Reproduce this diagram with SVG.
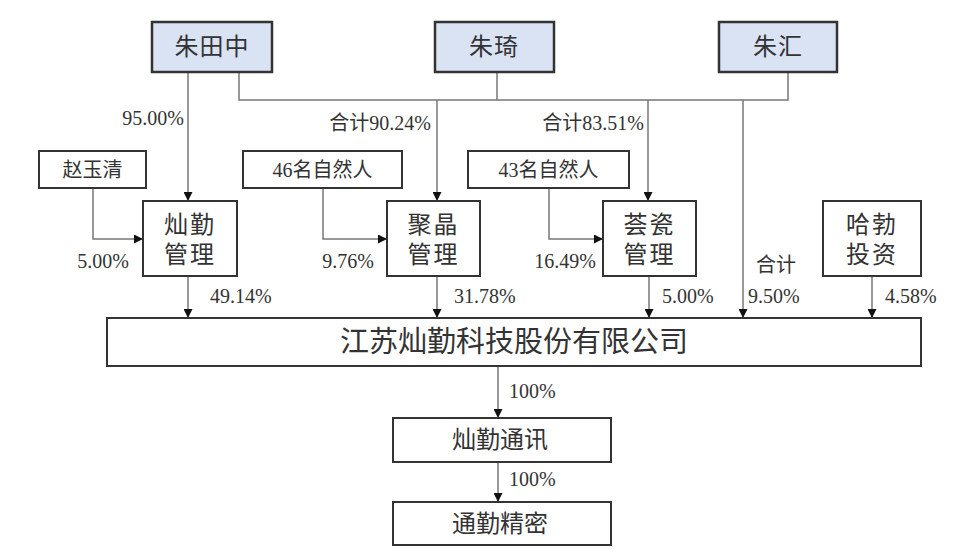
<svg xmlns="http://www.w3.org/2000/svg" width="959" height="558" viewBox="0 0 959 558">
<style>
.bx{fill:#fff;stroke:#333;stroke-width:2}
.top{fill:#dae3f3;stroke:#333;stroke-width:2.5}
.ln{fill:none;stroke:#777;stroke-width:1.5}
.t{font-family:"Liberation Serif","Noto Sans CJK SC",serif;fill:#333;text-anchor:middle;dominant-baseline:central}
.p{font-family:"Liberation Serif","Noto Sans CJK SC",serif;font-size:20px;fill:#333}
</style>
<defs>
<marker id="ar" viewBox="0 0 10 10" refX="10" refY="5" markerWidth="9" markerHeight="9" markerUnits="userSpaceOnUse" orient="auto">
<path d="M0,0 L10,5 L0,10 z" fill="#111"/>
</marker>
</defs>
<rect width="959" height="558" fill="#fff"/>
<g id="connectors">
<path class="ln" d="M188,73 V201" marker-end="url(#ar)"/>
<path class="ln" d="M239,73 V100 H788 V73"/>
<path class="ln" d="M497,73 V100"/>
<path class="ln" d="M437,100 V201" marker-end="url(#ar)"/>
<path class="ln" d="M648,100 V201" marker-end="url(#ar)"/>
<path class="ln" d="M743,100 V318" marker-end="url(#ar)"/>
<path class="ln" d="M93,188 V239 H143" marker-end="url(#ar)"/>
<path class="ln" d="M323,188 V239 H387" marker-end="url(#ar)"/>
<path class="ln" d="M549,188 V239 H603" marker-end="url(#ar)"/>
<path class="ln" d="M188,276 V318" marker-end="url(#ar)"/>
<path class="ln" d="M437,276 V318" marker-end="url(#ar)"/>
<path class="ln" d="M649,276 V318" marker-end="url(#ar)"/>
<path class="ln" d="M872,276 V318" marker-end="url(#ar)"/>
<path class="ln" d="M498,366 V418" marker-end="url(#ar)"/>
<path class="ln" d="M498,462 V502" marker-end="url(#ar)"/>
</g>
<g id="labels">
<text class="p" x="184" y="125" text-anchor="end">95.00%</text>
<text class="p" x="431" y="130" text-anchor="end">合计90.24%</text>
<text class="p" x="644" y="130" text-anchor="end">合计83.51%</text>
<text class="p" x="129" y="268" text-anchor="end">5.00%</text>
<text class="p" x="374" y="268" text-anchor="end">9.76%</text>
<text class="p" x="596" y="268" text-anchor="end">16.49%</text>
<text class="p" x="210" y="303">49.14%</text>
<text class="p" x="454" y="303">31.78%</text>
<text class="p" x="662" y="303">5.00%</text>
<text class="p" x="756" y="272">合计</text>
<text class="p" x="748" y="303">9.50%</text>
<text class="p" x="885" y="303">4.58%</text>
<text class="p" x="509" y="398">100%</text>
<text class="p" x="509" y="486">100%</text>
</g>
<g id="zhutianzhong"><rect class="top" x="152" y="22" width="120" height="50"/><text class="t" x="212" y="47" font-size="24" letter-spacing="1">朱田中</text></g>
<g id="zhuqi"><rect class="top" x="435" y="22" width="119" height="50"/><text class="t" x="494" y="47" font-size="24" letter-spacing="1">朱琦</text></g>
<g id="zhuhui"><rect class="top" x="719" y="22" width="118" height="50"/><text class="t" x="778" y="47" font-size="24" letter-spacing="1">朱汇</text></g>
<g id="zhaoyuqing"><rect class="bx" x="39" y="151" width="107" height="37"/><text class="t" x="92.5" y="169.5" font-size="20">赵玉清</text></g>
<g id="ren46"><rect class="bx" x="243" y="151" width="159" height="37"/><text class="t" x="322.5" y="169.5" font-size="20">46名自然人</text></g>
<g id="ren43"><rect class="bx" x="468" y="151" width="161" height="37"/><text class="t" x="548.5" y="169.5" font-size="20">43名自然人</text></g>
<g id="canqinguanli"><rect class="bx" x="143" y="201" width="94" height="75"/><text class="t" x="190" y="225" font-size="24" letter-spacing="2">灿勤</text><text class="t" x="190" y="255" font-size="24" letter-spacing="2">管理</text></g>
<g id="jujingguanli"><rect class="bx" x="387" y="201" width="93" height="75"/><text class="t" x="433.5" y="225" font-size="24" letter-spacing="2">聚晶</text><text class="t" x="433.5" y="255" font-size="24" letter-spacing="2">管理</text></g>
<g id="huiciguanli"><rect class="bx" x="603" y="201" width="93" height="75"/><text class="t" x="649.5" y="225" font-size="24" letter-spacing="2">荟瓷</text><text class="t" x="649.5" y="255" font-size="24" letter-spacing="2">管理</text></g>
<g id="habotouzi"><rect class="bx" x="823" y="201" width="98" height="75"/><text class="t" x="872" y="225" font-size="24" letter-spacing="2">哈勃</text><text class="t" x="872" y="255" font-size="24" letter-spacing="2">投资</text></g>
<g id="company"><rect class="bx" x="107" y="318" width="814" height="48"/><text class="t" x="514" y="342" font-size="29">江苏灿勤科技股份有限公司</text></g>
<g id="canqintongxun"><rect class="bx" x="393" y="418" width="218" height="44"/><text class="t" x="500" y="440" font-size="24">灿勤通讯</text></g>
<g id="tongqinjingmi"><rect class="bx" x="393" y="502" width="218" height="43"/><text class="t" x="500" y="523.5" font-size="24">通勤精密</text></g>
</svg>
